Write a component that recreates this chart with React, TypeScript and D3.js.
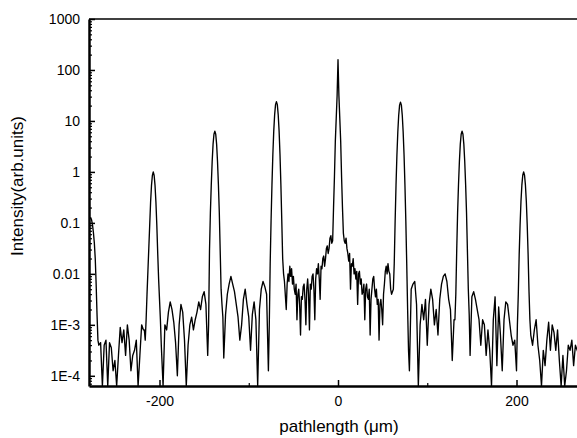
import React, { useEffect, useRef } from "react";
import * as d3 from "d3";

// intensity is stored as log10 exponent
// each segment: first pathlength (um), sampling step (um), exponents
const edgePeak = [-0.92, -0.9, -0.95, -1.05, -1.2, -1.4, -1.7, -2.2, -2.8, -3.3, -3.4];
const noiseA = [-3.35, -4.2, -3.4, -3.3, -4.2, -3.35, -3.45, -3.9, -3.7, -4.2, -3.6, -3.05, -3.35,
  -3.1, -3.6, -3.0, -3.3, -3.9, -3.6, -3.5, -3.3, -4.2, -3.6, -3.0, -3.1];
const peakM207 = [-3.1, -3.3, -2.9, -2.4, -1.95, -1.5, -1.05, -0.6, -0.27, -0.07, 0, -0.07, -0.27,
  -0.6, -1.05, -1.6, -2.1, -2.5, -2.9, -3.4, -3.8, -4.2];
const noiseB = [-3.0, -3.1, -2.75, -2.55, -2.7, -2.95, -3.35, -4.0, -3.0, -2.6, -2.75, -3.3, -4.2,
  -3.4, -3.0, -2.85, -3.1, -2.9, -2.75, -2.55, -2.7, -2.45, -2.35, -2.6, -3.6];
const peakM138 = [-3.0, -1.55, -0.8, -0.25, 0.2, 0.54, 0.74, 0.8, 0.74, 0.54, 0.2, -0.25, -0.8,
  -1.55, -2.3, -2.6, -2.85];
const noiseC = [-3.65, -2.8, -2.4, -2.2, -2.05, -2.2, -2.35, -2.6, -2.85, -3.3, -3.0, -2.5, -2.3,
  -2.6, -2.85, -3.5, -2.8, -2.55, -2.9, -4.2, -2.7, -2.3, -2.15, -2.25, -2.4, -3.9];
const peakM69 = [-3.0, -1.8, -0.96, -0.25, 0.34, 0.8, 1.12, 1.32, 1.38, 1.32, 1.12, 0.8, 0.34,
  -0.25, -0.96, -1.7, -2.0, -2.15];
const noiseD = [-2.7, -2.2, -2.0, -2.15, -1.85, -2.05, -1.9, -2.2, -2.05, -2.3, -2.4, -2.2, -2.9,
  -2.4, -2.3, -2.6, -3.2, -2.45, -2.5, -2.25, -2.2, -2.5, -3.0, -2.3, -2.1, -2.4, -3.1, -2.2,
  -2.3, -2.05, -2.0, -2.3, -2.9, -2.1, -1.9, -2.0, -1.8, -2.1, -2.5, -1.85, -1.9, -1.7, -1.65,
  -1.85, -1.7, -1.5, -1.45, -1.6, -1.5, -1.3, -1.25, -1.4, -1.35];
const peakCenter = [-0.7, -0.1, 0.6, 1.05, 1.5, 2.2, 1.5, 1.05, 0.6, -0.1, -0.7];
const noiseE = [-1.2, -1.35, -1.4, -1.3, -1.5, -1.6, -1.75, -1.6, -2.3, -1.8, -1.85, -1.7, -2.0,
  -1.9, -2.1, -1.95, -2.6, -2.0, -1.95, -2.2, -2.1, -2.4, -2.35, -2.2, -2.9, -2.3, -2.2, -2.45,
  -2.5, -2.3, -3.2, -2.5, -2.3, -2.1, -2.05, -2.3, -2.45, -2.3, -2.6, -2.5, -3.3, -2.6, -2.5,
  -2.7, -3.0, -2.4, -2.2, -1.95, -1.85, -2.0, -1.8, -1.95, -2.0, -2.3, -2.4];
const peakP70 = [-2.3, -1.8, -0.97, -0.26, 0.33, 0.78, 1.11, 1.31, 1.37, 1.31, 1.11, 0.78, 0.33,
  -0.26, -0.97, -1.8, -2.7, -3.5, -3.9];
const noiseF = [-2.3, -2.2, -2.15, -2.6, -4.2, -3.0, -2.6, -2.9, -2.5, -3.4, -2.6, -2.3, -2.5,
  -3.0, -2.7, -3.2, -2.5, -2.2, -2.05, -2.0, -2.15, -2.5, -2.7, -3.7, -2.9];
const peakP139 = [-2.9, -2.4, -1.55, -0.8, -0.25, 0.2, 0.54, 0.74, 0.8, 0.74, 0.54, 0.2, -0.25,
  -0.8, -1.55, -2.3, -2.8, -3.6];
const noiseG = [-2.45, -2.35, -2.5, -2.7, -2.9, -3.4, -2.9, -3.0, -3.6, -3.1, -3.5, -4.2, -2.9,
  -2.45, -3.8, -2.65, -3.2, -3.9, -2.9, -2.55, -2.6, -2.9, -3.2, -3.4, -3.3, -3.9];
const peakP208 = [-3.0, -2.4, -1.62, -1.04, -0.58, -0.26, -0.065, 0, -0.065, -0.26, -0.58, -1.04,
  -1.62, -2.34, -2.9, -3.2];
const noiseH = [-3.4, -3.1, -2.9, -3.4, -3.7, -4.2, -3.5, -3.8, -3.3, -2.95, -3.5, -3.0, -3.15,
  -3.5, -3.1, -3.7, -4.2, -3.6, -4.2, -3.9, -3.4, -3.5, -3.3, -3.8, -3.4, -3.5, -3.6];

const segments: [number, number, number[]][] = [
  [-278, 1, edgePeak], [-266, 2, noiseA], [-217, 1, peakM207], [-194, 2, noiseB],
  [-145, 1, peakM138], [-128, 2, noiseC], [-77, 1, peakM69], [-58, 1, noiseD],
  [-5, 1, peakCenter], [6, 1, noiseE], [62, 1, peakP70], [82, 2, noiseF],
  [131, 1, peakP139], [150, 2, noiseG], [201, 1, peakP208], [218, 2, noiseH],
];

const yTickValues = [1e-4, 1e-3, 0.01, 0.1, 1, 10, 100, 1000];
const yTickLabels = ["1E-4", "1E-3", "0.01", "0.1", "1", "10", "100", "1000"];
const xTickValues = [-200, 0, 200];
const xMinorTicks = [-100, 100];

const W = 577, H = 438;
const left = 89, top = 19, bottom = 386;

export default function App() {
  const ref = useRef<SVGSVGElement>(null);

  useEffect(() => {
    const svg = d3.select(ref.current);
    svg.selectAll("*").remove();

    const x = d3.scaleLinear().domain([-279, 286]).range([left, left + 565 * 0.8925]);
    const y = d3.scaleLog().domain([Math.pow(10, -4.2), 1000]).range([bottom, top]);

    const points: [number, number][] = [];
    segments.forEach(([start, step, vals]) => {
      vals.forEach((v, i) => points.push([start + i * step, v]));
    });

    svg.append("clipPath").attr("id", "plot")
      .append("rect").attr("x", left).attr("y", top).attr("width", 520).attr("height", bottom - top);

    const line = d3.line<[number, number]>()
      .x(d => x(d[0]))
      .y(d => y(Math.pow(10, d[1])));

    svg.append("path")
      .datum(points)
      .attr("clip-path", "url(#plot)")
      .attr("fill", "none")
      .attr("stroke", "#000")
      .attr("stroke-width", 1.35)
      .attr("stroke-linejoin", "round")
      .attr("d", line);

    const font = "'Liberation Sans', Arial, sans-serif";

    // y minor ticks
    const minor: number[] = [];
    for (let e = -5; e < 3; e++) {
      for (let m = 2; m < 10; m++) {
        const v = m * Math.pow(10, e);
        if (v >= Math.pow(10, -4.2) && v < 1000) minor.push(v);
      }
    }
    svg.append("g").attr("transform", `translate(${left},0)`)
      .call(d3.axisLeft(y).tickValues(minor).tickSize(-3).tickSizeOuter(0).tickFormat(() => ""))
      .call(g => g.select(".domain").remove())
      .call(g => g.selectAll("line").attr("stroke-width", 1.2));

    svg.append("g").attr("transform", `translate(${left},0)`)
      .call(d3.axisLeft(y).tickValues(yTickValues).tickSize(-6).tickSizeOuter(0).tickPadding(9)
        .tickFormat((d, i) => yTickLabels[i]))
      .call(g => g.select(".domain").attr("stroke-width", 2.5))
      .call(g => g.selectAll("line").attr("stroke-width", 1.5))
      .call(g => g.selectAll("text").attr("font-size", 14).attr("font-family", font).attr("fill", "#000"));

    // x axis
    svg.append("g").attr("transform", `translate(0,${bottom})`)
      .call(d3.axisBottom(x).tickValues(xMinorTicks).tickSize(-3).tickSizeOuter(0).tickFormat(() => ""))
      .call(g => g.select(".domain").remove())
      .call(g => g.selectAll("line").attr("stroke-width", 1.2));

    svg.append("g").attr("transform", `translate(0,${bottom})`)
      .call(d3.axisBottom(x).tickValues(xTickValues).tickSize(-6).tickSizeOuter(0).tickPadding(10)
        .tickFormat(d => String(d)))
      .call(g => g.select(".domain").attr("stroke-width", 2.5))
      .call(g => g.selectAll("line").attr("stroke-width", 1.5))
      .call(g => g.selectAll("text").attr("font-size", 14).attr("font-family", font).attr("fill", "#000"));

    // top frame
    svg.append("line")
      .attr("x1", left).attr("x2", W).attr("y1", top).attr("y2", top)
      .attr("stroke", "#000").attr("stroke-width", 1.6);

    svg.append("text")
      .attr("x", 339).attr("y", 432)
      .attr("text-anchor", "middle")
      .attr("font-size", 17).attr("font-family", font)
      .text("pathlength (\u03bcm)");

    svg.append("text")
      .attr("transform", "translate(23,186) rotate(-90)")
      .attr("text-anchor", "middle")
      .attr("font-size", 17).attr("font-family", font)
      .text("Intensity(arb.units)");
  }, []);

  return (
    <svg ref={ref} width={W} height={H}
      style={{ position: "absolute", left: 0, top: 0, background: "#fff" }} />
  );
}
